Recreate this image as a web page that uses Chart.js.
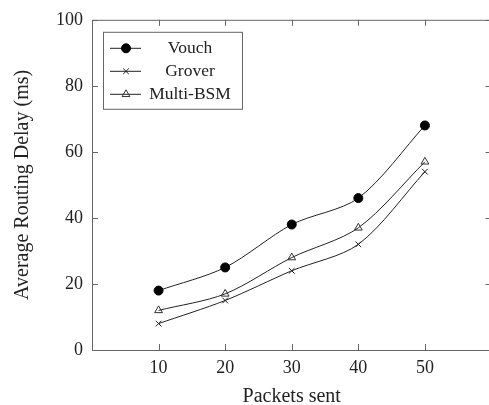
<html>
    <head>
        <meta charset="utf-8">
        <title>Average Routing Delay</title>
        <style>
            body { margin: 0; overflow: hidden; background: #fff; }
            #wrap { width: 497px; height: 405px; }
        </style>
    </head>
    <body>
        <div id="wrap"><canvas id="chart" width="497" height="405"></canvas></div>
        <script src="https://cdn.jsdelivr.net/npm/chart.js"></script>
        <script type="text/javascript">
            // packets sent (x) and delay in ms per scheme
            var packets = [10, 20, 30, 40, 50];
            var vouch = [18, 25, 38, 46, 68];
            var grover = [8, 15, 24, 32, 54];
            var multiBsm = [12, 17, 28, 37, 57];
            var xTicks = [10, 20, 30, 40, 50];
            var yTicks = [0, 20, 40, 60, 80, 100];

            var serif = "'Liberation Serif', 'DejaVu Serif', serif";
            var ink = "#222";
            var frame = "#666";

            function pts(ys) {
                return packets.map(function (p, i) { return {x: p, y: ys[i]}; });
            }

            // box + ticks on all four sides, ticks point inward
            var framePlugin = {
                id: "frame",
                beforeDatasetsDraw: function (chart) {
                    var c = chart.ctx, a = chart.chartArea;
                    var xs = chart.scales.x, ys = chart.scales.y;
                    c.save();
                    c.strokeStyle = frame;
                    c.lineWidth = 1;
                    c.beginPath();
                    xTicks.forEach(function (v) {
                        var px = Math.round(xs.getPixelForValue(v)) + 0.5;
                        c.moveTo(px, a.bottom); c.lineTo(px, a.bottom - 6);
                        c.moveTo(px, a.top); c.lineTo(px, a.top + 6);
                    });
                    yTicks.forEach(function (v) {
                        var py = Math.round(ys.getPixelForValue(v)) + 0.5;
                        c.moveTo(a.left, py); c.lineTo(a.left + 6, py);
                        c.moveTo(a.right, py); c.lineTo(a.right - 6, py);
                    });
                    c.stroke();
                    c.strokeRect(a.left + 0.5, a.top + 0.5, a.right - a.left, a.bottom - a.top);
                    c.restore();
                }
            };

            // legend drawn inside the plot, upper left
            var legendPlugin = {
                id: "boxLegend",
                afterDraw: function (chart) {
                    var c = chart.ctx, a = chart.chartArea;
                    var bx = a.left + 11, by = a.top + 12, bw = 139, bh = 77;
                    c.save();
                    c.fillStyle = "#fff";
                    c.fillRect(bx, by, bw, bh);
                    c.strokeStyle = frame;
                    c.lineWidth = 1;
                    c.strokeRect(bx + 0.5, by + 0.5, bw, bh);
                    chart.data.datasets.forEach(function (ds, i) {
                        var y = by + 16 + i * 23;
                        c.strokeStyle = ds.borderColor;
                        c.lineWidth = 1;
                        c.beginPath();
                        c.moveTo(bx + 7, y + 0.5); c.lineTo(bx + 38, y + 0.5);
                        c.stroke();
                        c.fillStyle = ds.pointBackgroundColor;
                        c.strokeStyle = ds.pointBorderColor;
                        Chart.helpers.drawPoint(c, {
                            pointStyle: ds.pointStyle,
                            radius: ds.pointRadius,
                            borderWidth: 1,
                            rotation: 0
                        }, bx + 23, y + 0.5);
                        c.fillStyle = ink;
                        c.font = "17.5px " + serif;
                        c.textAlign = "center";
                        c.textBaseline = "middle";
                        c.fillText(ds.label, bx + 87, y + 1);
                    });
                    c.restore();
                }
            };

            var chart = new Chart(document.getElementById("chart"), {
                type: "scatter",
                data: {
                    datasets: [{
                        label: "Vouch",
                        data: pts(vouch),
                        borderColor: "#222",
                        pointStyle: "circle",
                        pointRadius: 4.5,
                        pointBackgroundColor: "#000",
                        pointBorderColor: "#000"
                    }, {
                        label: "Grover",
                        data: pts(grover),
                        borderColor: "#222",
                        pointStyle: "crossRot",
                        pointRadius: 4,
                        pointBackgroundColor: "#222",
                        pointBorderColor: "#222"
                    }, {
                        label: "Multi-BSM",
                        data: pts(multiBsm),
                        borderColor: "#222",
                        pointStyle: "triangle",
                        pointRadius: 4.5,
                        pointBackgroundColor: "rgba(255,255,255,0)",
                        pointBorderColor: "#333"
                    }]
                },
                options: {
                    responsive: false,
                    animation: false,
                    // canvas is a bit wider than the window so the right edge of the frame is cut off, like the source
                    layout: { padding: { left: 0, top: 17, right: 0, bottom: 0 } },
                    datasets: {
                        scatter: {
                            showLine: true,
                            borderWidth: 1,
                            tension: 0.3,
                            pointBorderWidth: 1
                        }
                    },
                    plugins: {
                        legend: { display: false },
                        tooltip: { enabled: false }
                    },
                    scales: {
                        x: {
                            type: "linear",
                            min: 0,
                            max: 60,
                            afterFit: function (s) { s.height = 55; },
                            afterBuildTicks: function (s) {
                                s.ticks = xTicks.map(function (v) { return {value: v}; });
                            },
                            grid: { display: false, drawTicks: false },
                            border: { display: false },
                            ticks: { color: ink, font: { family: serif, size: 18 }, padding: 7 },
                            title: {
                                display: true,
                                text: "Packets sent",
                                color: ink,
                                font: { family: serif, size: 20, lineHeight: 0.85 },
                                padding: { top: 0, bottom: 0 }
                            }
                        },
                        y: {
                            min: 0,
                            max: 100,
                            afterFit: function (s) { s.width = 92; },
                            afterBuildTicks: function (s) {
                                s.ticks = yTicks.map(function (v) { return {value: v}; });
                            },
                            grid: { display: false, drawTicks: false },
                            border: { display: false },
                            ticks: { color: ink, font: { family: serif, size: 18 }, padding: 9 },
                            title: {
                                display: true,
                                text: "Average Routing Delay (ms)",
                                color: ink,
                                font: { family: serif, size: 20 },
                                padding: { top: 11, bottom: 0 }
                            }
                        }
                    }
                },
                plugins: [framePlugin, legendPlugin]
            });
        </script>
    </body>
</html>
